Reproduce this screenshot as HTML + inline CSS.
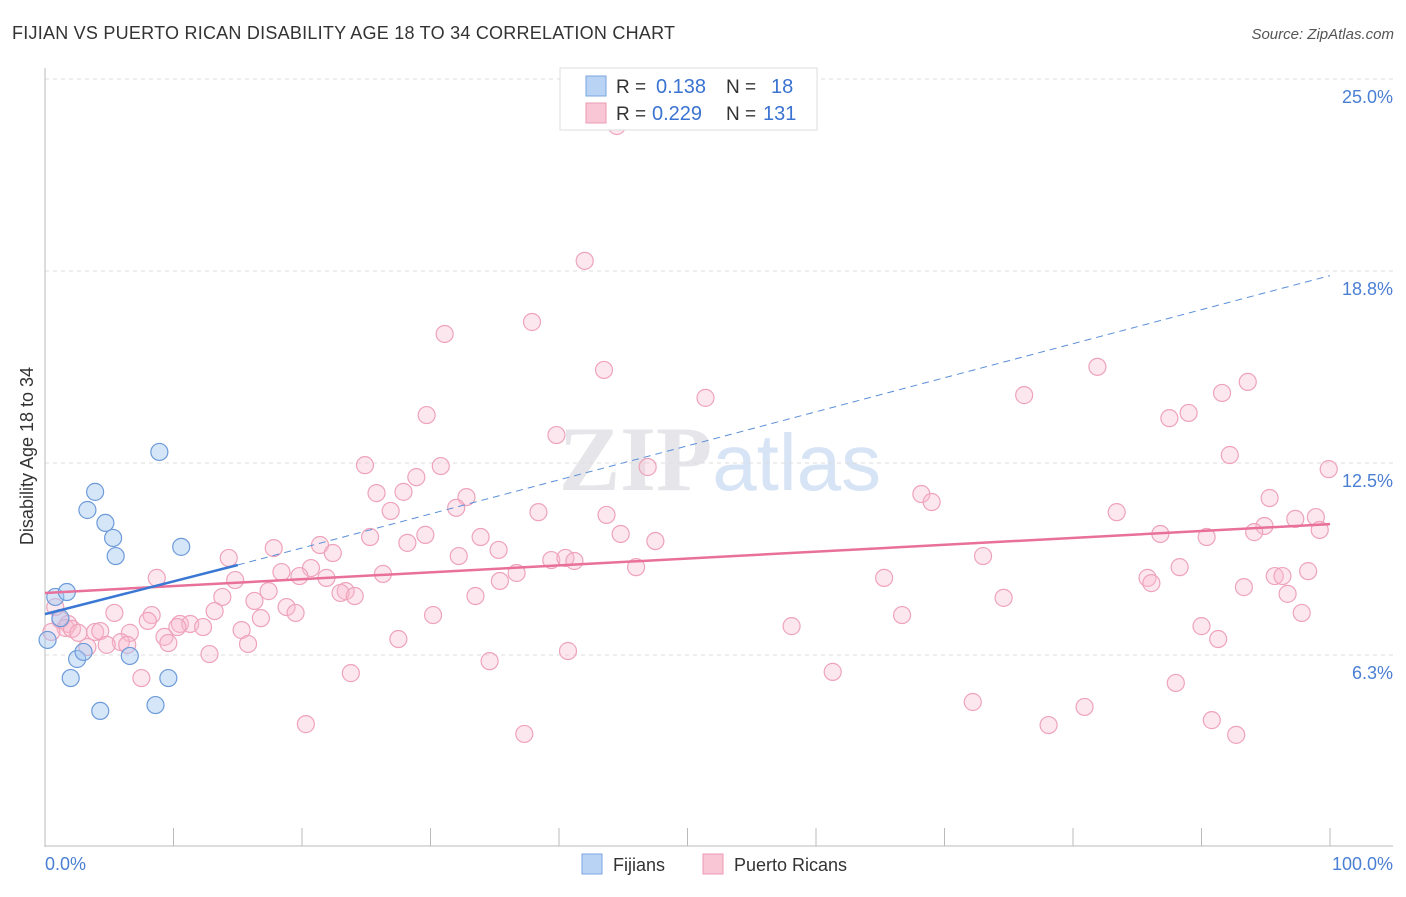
<!DOCTYPE html>
<html><head><meta charset="utf-8"><style>
body{margin:0;background:#fff;font-family:"Liberation Sans",sans-serif;}
svg text{font-family:"Liberation Sans",sans-serif;}
</style></head><body>
<svg id="chart" width="1406" height="892" xmlns="http://www.w3.org/2000/svg">
<text x="12" y="39" font-size="18" fill="#333" textLength="663" lengthAdjust="spacing">FIJIAN VS PUERTO RICAN DISABILITY AGE 18 TO 34 CORRELATION CHART</text>
<text x="1394" y="39" font-size="15" fill="#555" text-anchor="end" font-style="italic">Source: ZipAtlas.com</text>
<text x="720" y="490" font-size="92" text-anchor="middle" fill="#e6e6ea"><tspan font-family="Liberation Serif" font-weight="bold">ZIP</tspan><tspan fill="#d6e4f6" font-size="80">atlas</tspan></text>
<g id="grid"></g><g id="axes"></g><g id="pts"></g><g id="lines"></g>
<text transform="translate(33,456) rotate(-90)" font-size="18" fill="#333" text-anchor="middle">Disability Age 18 to 34</text>
<text x="45" y="870" font-size="18" fill="#4a7fd4">0.0%</text>
<text x="1393" y="870" font-size="18" fill="#4a7fd4" text-anchor="end">100.0%</text>
<g>
<rect x="560" y="68" width="257" height="62" fill="#fff" stroke="#ddd"/>
<rect x="586" y="76" width="20" height="20" fill="#b9d3f5" stroke="#7aa5e0"/>
<rect x="586" y="103" width="20" height="20" fill="#f8c6d4" stroke="#ec9ab4"/>
<text x="616" y="93" font-size="19" fill="#333">R = <tspan x="656" fill="#3a73d0" font-size="20">0.138</tspan><tspan x="726">N = </tspan><tspan x="771" fill="#3a73d0" font-size="20">18</tspan></text>
<text x="616" y="120" font-size="19" fill="#333">R = <tspan x="652" fill="#3a73d0" font-size="20">0.229</tspan><tspan x="726">N = </tspan><tspan x="763" fill="#3a73d0" font-size="20">131</tspan></text>
</g>
<g>
<rect x="582" y="854" width="20" height="20" fill="#b9d3f5" stroke="#7aa5e0"/>
<text x="613" y="871" font-size="18" fill="#333">Fijians</text>
<rect x="703" y="854" width="20" height="20" fill="#f8c6d4" stroke="#ec9ab4"/>
<text x="734" y="871" font-size="18" fill="#333">Puerto Ricans</text>
</g>
</svg>
<script>
const yTicks=[6.25,12.5,18.75,25];
const yTickLabels=["6.3%","12.5%","18.8%","25.0%"];
const fijX=[0.2,0.8,1.2,1.7,2.0,2.5,3.0,3.3,3.9,4.3,4.7,5.3,5.5,6.6,8.6,8.9,9.6,10.6];
const fijY=[6.74,8.14,7.45,8.30,5.50,6.12,6.35,10.97,11.56,4.43,10.55,10.06,9.47,6.22,4.62,12.86,5.50,9.77];
const prX=[44.5,42.0,37.9,31.1,43.5,81.9,51.4,76.2,93.6,91.6,29.7,89.0,87.5,39.8,92.2,99.9,24.9,30.8,46.9,28.9,25.8,27.9,32.8,68.2,69.0,95.3,26.9,32.0,38.4,43.7,83.4,98.9,97.3,94.9,94.1,99.2,86.8,90.4,25.3,29.6,44.8,47.5,33.9,17.8,21.4,22.4,28.2,14.3,35.3,32.2,39.4,40.5,41.2,73.0,88.3,98.3,46.0,20.7,18.4,19.8,21.9,26.3,36.7,8.7,14.8,65.3,85.8,86.1,95.7,96.3,93.3,35.4,17.4,23.4,23.0,24.1,33.5,96.7,13.8,16.3,18.8,74.6,0.8,97.8,5.4,8.3,13.2,19.5,30.2,66.7,16.8,1.2,1.8,8.0,10.5,11.3,10.3,12.3,90.0,58.1,1.6,2.1,2.6,3.9,4.3,6.6,15.3,0.5,9.3,91.3,5.9,9.6,27.5,4.8,15.8,6.4,3.3,12.8,40.7,34.6,7.5,23.8,61.3,88.0,72.2,80.9,90.8,20.3,78.1,37.3,92.7];
const prY=[23.47,19.08,17.09,16.70,15.53,15.63,14.62,14.71,15.14,14.78,14.06,14.13,13.96,13.41,12.76,12.30,12.43,12.40,12.37,12.04,11.52,11.56,11.39,11.49,11.23,11.36,10.94,11.04,10.90,10.81,10.90,10.74,10.68,10.45,10.25,10.32,10.19,10.09,10.09,10.16,10.19,9.96,10.09,9.73,9.83,9.57,9.90,9.41,9.67,9.47,9.34,9.41,9.31,9.47,9.11,8.98,9.11,9.08,8.95,8.82,8.76,8.89,8.92,8.76,8.69,8.76,8.76,8.59,8.82,8.82,8.46,8.66,8.33,8.33,8.27,8.17,8.17,8.24,8.14,8.01,7.81,8.11,7.81,7.62,7.62,7.55,7.68,7.62,7.55,7.55,7.45,7.39,7.26,7.36,7.26,7.26,7.16,7.16,7.19,7.19,7.13,7.10,6.97,7.00,7.03,6.97,7.06,7.00,6.84,6.77,6.67,6.64,6.77,6.58,6.61,6.58,6.51,6.28,6.38,6.05,5.50,5.66,5.70,5.34,4.72,4.56,4.13,4.00,3.97,3.68,3.65];
const fijTrend=[[0,7.58],[15,9.18]];
const fijExt=[[15,9.18],[100,18.6]];
const prTrend=[[0,8.27],[100,10.51]];
const NS="http://www.w3.org/2000/svg";
const X=v=>45+v*12.85, Y=v=>847-v*30.72;
function mk(tag,attrs,parent){const e=document.createElementNS(NS,tag);for(const k in attrs)e.setAttribute(k,attrs[k]);document.getElementById(parent).appendChild(e);return e;}
yTicks.forEach((t,i)=>{
 const g=mk('line',{x1:45,x2:1393,y1:Y(t),y2:Y(t),stroke:'#ddd','stroke-dasharray':'4,4'},'grid');
 
 
 const tx=mk('text',{x:1393,y:Y(t)+24,'font-size':18,fill:'#4a7fd4','text-anchor':'end'},'grid');
 tx.textContent=yTickLabels[i];
 
 
});
const ax=mk('line',{x1:45,x2:45,y1:68,y2:847,stroke:'#bbb'},'axes');


const bx=mk('line',{x1:45,x2:1393,y1:846,y2:846,stroke:'#bbb'},'axes');


for(let i=0;i<=10;i++){const t=mk('line',{x1:X(i*10),x2:X(i*10),y1:828,y2:846,stroke:'#bbb'},'axes');
 
 }
prX.forEach((x,i)=>{const c=mk('circle',{cx:X(x),cy:Y(prY[i]),r:8.5,fill:'rgba(248,185,205,0.35)',stroke:'#eea3bb','stroke-width':1.2},'pts');
 
 });
fijX.forEach((x,i)=>{const c=mk('circle',{cx:X(x),cy:Y(fijY[i]),r:8.5,fill:'rgba(165,200,242,0.45)',stroke:'#6d9bd9','stroke-width':1.2},'pts');
 
 });
const l1=mk('line',{x1:X(prTrend[0][0]),y1:Y(prTrend[0][1]),x2:X(prTrend[1][0]),y2:Y(prTrend[1][1]),stroke:'#e8709a','stroke-width':2.5},'lines');


const l2=mk('line',{x1:X(fijExt[0][0]),y1:Y(fijExt[0][1]),x2:X(fijExt[1][0]),y2:Y(fijExt[1][1]),stroke:'#5b8fd8','stroke-width':1,'stroke-dasharray':'7,5'},'lines');


const l3=mk('line',{x1:X(fijTrend[0][0]),y1:Y(fijTrend[0][1]),x2:X(fijTrend[1][0]),y2:Y(fijTrend[1][1]),stroke:'#3a78d4','stroke-width':2.5},'lines');


</script>
</body></html>
